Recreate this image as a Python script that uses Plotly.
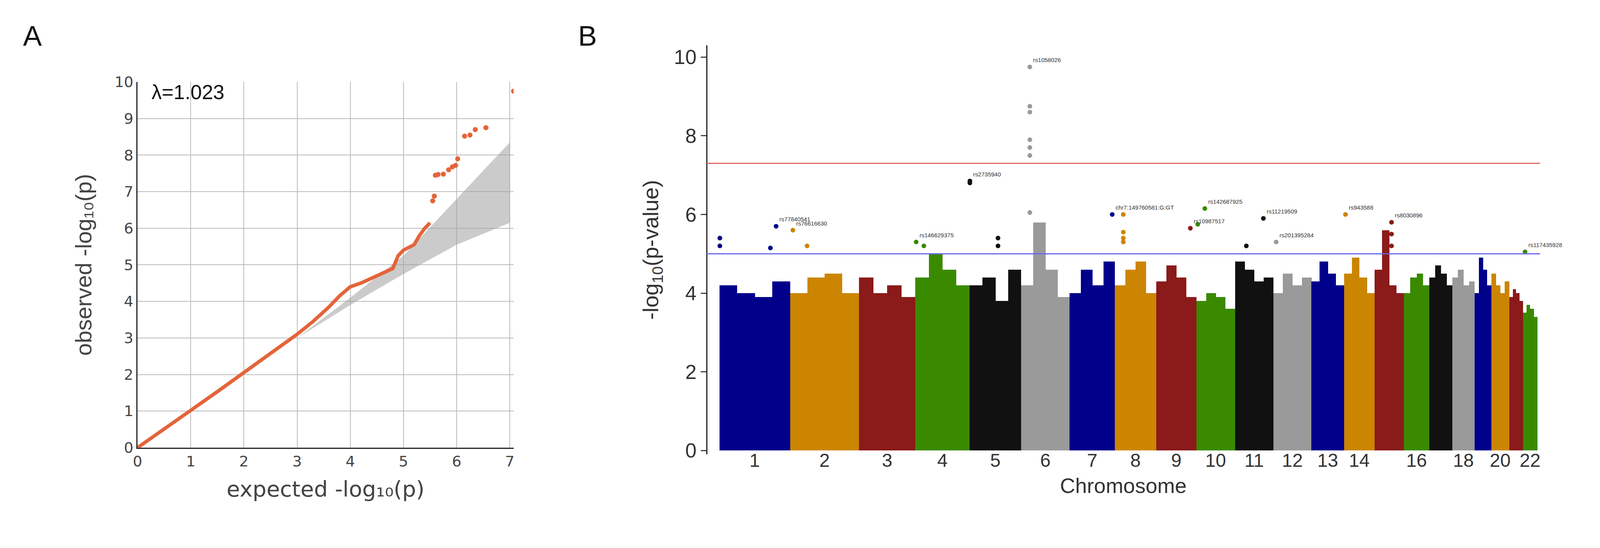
import plotly.graph_objects as go

# ---- Panel A: QQ data ----
qq_exp = [0, 0.5, 1, 1.5, 2, 2.5, 3, 3.3, 3.6, 3.8, 4.0, 4.2, 4.5, 4.7, 4.8, 4.9, 5.0, 5.2, 5.3, 5.4, 5.5]
qq_obs = [0, 0.5, 1.02, 1.53, 2.05, 2.56, 3.1, 3.45, 3.85, 4.15, 4.4, 4.5, 4.7, 4.85, 4.9, 5.25, 5.4, 5.55, 5.8, 6.0, 6.15]
qq_hi_exp = [5.55, 5.58, 5.6, 5.65, 5.75, 5.85, 5.92, 5.98, 6.02, 6.15, 6.25, 6.35, 6.55, 7.07]
qq_hi_obs = [6.75, 6.88, 7.45, 7.47, 7.48, 7.6, 7.68, 7.72, 7.9, 8.52, 8.55, 8.7, 8.75, 9.75]
band_x = [0, 3, 4, 5, 6, 7]
band_lo = [0, 3.0, 3.9, 4.75, 5.55, 6.15]
band_hi = [0, 3.0, 4.1, 5.25, 6.8, 8.35]

# ---- Panel B: Manhattan data ----
chroms = list(range(1, 23))
chrom_len = [249, 243, 198, 191, 181, 171, 159, 146, 141, 136, 135, 134, 115, 107, 103, 90, 81, 78, 59, 63, 48, 51]
chrom_colors = (["#00008B", "#CC8500", "#8B1A1A", "#3A8A00", "#111111", "#9A9A9A"] * 4)[:22]
# top of the dense point cloud, four segments per chromosome
bulk_height = [
    [4.2, 4.0, 3.9, 4.3], [4.0, 4.4, 4.5, 4.0], [4.4, 4.0, 4.2, 3.9], [4.4, 5.0, 4.6, 4.2],
    [4.2, 4.4, 3.8, 4.6], [4.2, 5.8, 4.6, 3.9], [4.0, 4.6, 4.2, 4.8], [4.2, 4.6, 4.8, 4.0],
    [4.3, 4.7, 4.4, 3.9], [3.8, 4.0, 3.9, 3.6], [4.8, 4.6, 4.3, 4.4], [4.0, 4.5, 4.2, 4.4],
    [4.3, 4.8, 4.5, 4.2], [4.5, 4.9, 4.4, 4.0], [4.6, 5.6, 4.2, 4.0], [4.0, 4.4, 4.5, 4.2],
    [4.4, 4.7, 4.5, 4.2], [4.4, 4.6, 4.2, 4.3], [4.0, 4.9, 4.6, 4.2], [4.5, 4.2, 4.0, 4.3],
    [3.9, 4.1, 4.0, 3.8], [3.5, 3.7, 3.6, 3.4]]
tick_chroms = [1, 2, 3, 4, 5, 6, 7, 8, 9, 10, 11, 12, 13, 14, 16, 18, 20, 22]
# notable points: chromosome, position (Mb), -log10 p, label
pt_chr = [6, 6, 6, 6, 6, 6, 6, 5, 5, 1, 1, 1, 1, 2, 2, 4, 4, 5, 5, 7, 8, 8, 8, 8, 9, 10, 10, 11, 11, 12, 14, 15, 15, 15, 22]
pt_pos = [31, 31, 31, 31, 31, 31, 31, 1, 1, 200, 2, 2, 180, 10, 60, 3, 30, 100, 100, 150, 30, 30, 30, 30, 120, 5, 30, 100, 40, 10, 5, 60, 60, 60, 8]
pt_val = [9.75, 8.75, 8.6, 7.9, 7.7, 7.5, 6.05, 6.85, 6.8, 5.7, 5.4, 5.2, 5.15, 5.6, 5.2, 5.3, 5.2, 5.4, 5.2, 6.0, 6.0, 5.55, 5.4, 5.3, 5.65, 5.75, 6.15, 5.9, 5.2, 5.3, 6.0, 5.8, 5.5, 5.2, 5.05]
pt_lab = ["rs1058026", "", "", "", "", "", "", "rs2735940", "", "rs77840541", "", "", "", "rs76616630", "", "rs146629375", "", "", "", "chr7:149760581:G:GT", "", "", "", "", "rs10987517", "", "rs142687925", "rs11219509", "", "rs201395284", "rs943588", "rs8030896", "", "", "rs117435928"]

offsets = []
acc = 0
for L in chrom_len:
    offsets.append(acc)
    acc += L
centers = [o + L / 2 for o, L in zip(offsets, chrom_len)]

bx, by, bw, bc = [], [], [], []
for i, hs in enumerate(bulk_height):
    seg = chrom_len[i] / len(hs)
    for j, h in enumerate(hs):
        bx.append(offsets[i] + seg * (j + 0.5))
        by.append(h)
        bw.append(seg * 1.01)
        bc.append(chrom_colors[i])

fig = go.Figure()

# Panel A
fig.add_trace(go.Scatter(x=band_x + band_x[::-1], y=band_hi + band_lo[::-1], fill="toself",
                         fillcolor="rgba(160,160,160,0.55)", line=dict(width=0), mode="lines",
                         xaxis="x", yaxis="y", hoverinfo="skip"))
fig.add_trace(go.Scatter(x=qq_exp, y=qq_obs, mode="lines", line=dict(color="#E4643A", width=9),
                         xaxis="x", yaxis="y"))
fig.add_trace(go.Scatter(x=qq_hi_exp, y=qq_hi_obs, mode="markers",
                         marker=dict(color="#E4643A", size=13), xaxis="x", yaxis="y"))

# Panel B bulk
fig.add_trace(go.Bar(x=bx, y=by, width=bw,
                     marker=dict(color=bc, line=dict(width=0)), xaxis="x2", yaxis="y2"))
px = [offsets[c - 1] + p for c, p in zip(pt_chr, pt_pos)]
pc = [chrom_colors[c - 1] for c in pt_chr]
fig.add_trace(go.Scatter(x=px, y=pt_val, mode="markers+text", text=pt_lab, textposition="top right",
                         textfont=dict(size=15, color="#333"), cliponaxis=False,
                         marker=dict(color=pc, size=12), xaxis="x2", yaxis="y2"))

xmax = acc + 10
fig.update_layout(
    showlegend=False, plot_bgcolor="white", paper_bgcolor="white",
    margin=dict(l=0, r=0, t=0, b=0), font=dict(family="Liberation Sans", color="#222"),
    bargap=0,
    xaxis=dict(domain=[0.0817, 0.3185], range=[0, 7.07], dtick=1, showgrid=True, gridcolor="#bbb",
               gridwidth=2, showline=True, linecolor="#222", linewidth=3, zeroline=False,
               tickfont=dict(size=38, color="#444", family="DejaVu Sans"), ticks="",
               title=dict(text="expected -log₁₀(p)", font=dict(size=56, color="#444", family="DejaVu Sans"), standoff=30)),
    yaxis=dict(domain=[0.169, 0.866], range=[0, 10], dtick=1, showgrid=True, gridcolor="#bbb",
               gridwidth=2, showline=True, linecolor="#222", linewidth=3, zeroline=False,
               tickfont=dict(size=38, color="#444", family="DejaVu Sans"), ticks="",
               title=dict(text="observed -log₁₀(p)", font=dict(size=58, color="#444"), standoff=40)),
    xaxis2=dict(domain=[0.440, 0.965], range=[-45, xmax], tickvals=[centers[c - 1] for c in tick_chroms],
                ticktext=[str(c) for c in tick_chroms], showgrid=False, zeroline=False, showline=False,
                tickfont=dict(size=48, color="#333"), ticks="",
                title=dict(text="Chromosome", font=dict(size=54, color="#333"), standoff=20)),
    yaxis2=dict(domain=[0.156, 0.936], range=[-0.1, 10.3], dtick=2, showgrid=False, zeroline=False,
                showline=True, linecolor="#222", linewidth=3, ticks="outside", ticklen=14, tickwidth=3,
                tickfont=dict(size=52, color="#333"), anchor="free", position=0.440,
                title=dict(text="-log<sub>10</sub>(p-value)", font=dict(size=56, color="#333"), standoff=20)),
    shapes=[
        dict(type="line", xref="x2", yref="y2", x0=-45, x1=xmax, y0=7.3, y1=7.3, line=dict(color="#E06666", width=3)),
        dict(type="line", xref="x2", yref="y2", x0=-45, x1=xmax, y0=5.0, y1=5.0, line=dict(color="#6666EE", width=3)),
    ],
    annotations=[
        dict(text="A", x=0.0155, y=0.985, xref="paper", yref="paper", showarrow=False, xanchor="center", yanchor="top", font=dict(size=72, color="#111")),
        dict(text="B", x=0.365, y=0.985, xref="paper", yref="paper", showarrow=False, xanchor="center", yanchor="top", font=dict(size=72, color="#111")),
        dict(text="λ=1.023", x=0.25, y=9.72, xref="x", yref="y", showarrow=False, xanchor="left", font=dict(size=52, color="#111")),
    ],
)
fig.write_html("out.html")
